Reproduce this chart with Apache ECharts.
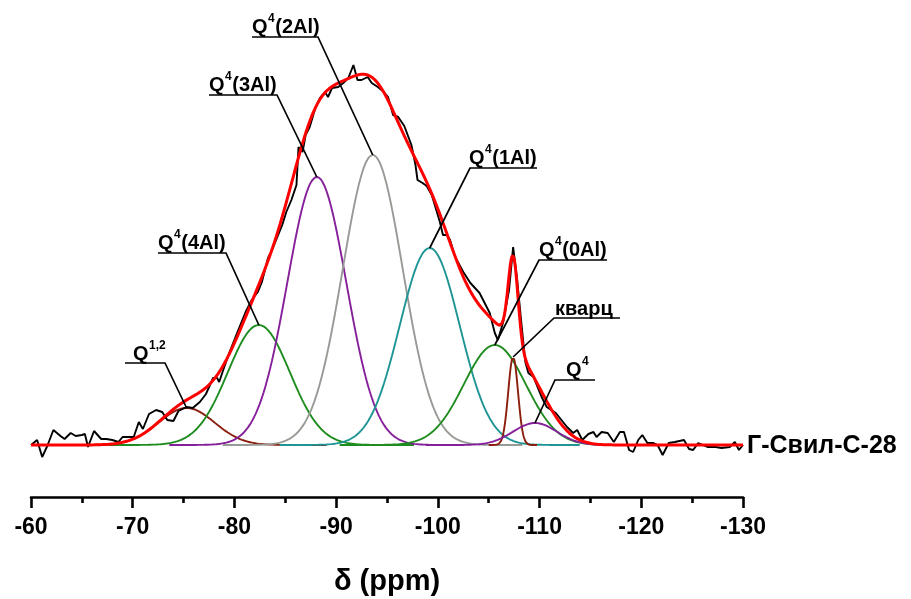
<!DOCTYPE html>
<html>
<head>
<meta charset="utf-8">
<script src="https://cdn.jsdelivr.net/npm/echarts/dist/echarts.min.js"></script>
<style>
  html, body { margin: 0; padding: 0; background: #fff; }
  #chart { width: 911px; height: 599px; }
</style>
</head>
<body>
<div id="chart"></div>
<script>
// 29Si MAS NMR spectrum, sample Г-Свил-С-28: chemical shift (ppm) and intensity
const shiftPpm = [
  -60.0, -60.6, -61.1, -61.6, -62.2, -62.9, -63.3, -63.9, -64.4, -65.0,
  -65.3, -65.6, -66.2, -66.9, -67.4, -68.0, -68.6, -69.0, -69.6, -70.1,
  -70.6, -71.0, -71.6, -72.3, -72.9, -73.4, -74.0, -74.5, -75.3, -75.9,
  -76.6, -77.2, -77.9, -78.3, -78.5, -79.0, -79.6, -80.3, -80.5, -81.1,
  -81.7, -82.3, -82.7, -83.3, -83.7, -84.3, -84.7, -85.1, -85.6, -86.1,
  -86.3, -86.7, -87.0, -87.4, -87.9, -88.4, -88.9, -89.2, -89.6, -90.2,
  -90.7, -91.2, -91.7, -92.1, -92.5, -93.1, -93.5, -94.1, -94.7, -95.1,
  -95.6, -96.1, -96.7, -97.4, -97.8, -98.0, -98.5, -98.9, -99.4, -100.2,
  -100.5, -100.9, -101.2, -101.7, -102.5, -103.2, -104.1, -105.1, -105.6, -105.9,
  -106.4, -107.0, -107.4, -107.8, -108.2, -108.6, -108.9, -109.4, -110.2, -110.7,
  -111.6, -112.7, -113.3, -113.7, -114.2, -114.8, -115.3, -115.6, -116.1, -116.7,
  -117.3, -117.9, -118.3, -118.8, -119.2, -119.7, -120.1, -120.6, -121.2, -121.6,
  -122.1, -122.7, -123.3, -124.2, -124.7, -125.1, -125.6, -126.5, -127.3, -127.9,
  -128.7, -129.2, -129.6, -130.0
];
const intensity = [
  0, 5, -12, -1, 15, 9, 6, 12, 9, 10,
  11, -2, 14, 6, 6, 5, 3, 8, 8, 8,
  23, 16, 31, 35, 33, 25, 24, 34, 38, 37,
  43, 51, 67, 67, 63, 78, 95, 113, 118, 133,
  145, 153, 163, 187, 195, 210, 220, 233, 245, 260,
  298, 293, 310, 318, 335, 347, 353, 348, 357, 358,
  362, 367, 380, 365, 365, 368, 362, 358, 353, 348,
  330, 328, 319, 300, 280, 265, 262, 259, 250, 223,
  210, 210, 205, 188, 173, 162, 152, 132, 112, 105,
  122, 155, 198, 165, 123, 83, 72, 68, 48, 38,
  32, 18, 12, 15, 5, 11, 13, 8, 13, 12,
  3, 13, 13, -5, -7, 5, 10, 2, 2, 0,
  -10, 2, 3, 5, -4, -5, 2, -2, -2, -3,
  -2, 3, -5, 0
];

// Gaussian components of the fit: position, height, standard deviation (ppm)
const peakNames   = ['Q1,2', 'Q4(4Al)', 'Q4(3Al)', 'Q4(2Al)', 'Q4(1Al)', 'Q4(0Al)', 'кварц', 'Q4'];
const peakCenters = [-75.3, -82.4, -88.1, -93.6, -99.2, -105.6, -107.4, -109.55];
const peakHeights = [37, 120, 268, 290, 197, 100, 88, 22];
const peakSigmas  = [2.75, 3.05, 2.9, 2.95, 2.95, 3.05, 0.48, 2.15];
const peakColors  = ['#8b1e0e', '#1e8c1e', '#86209a', '#979b95', '#1f9494', '#1e8c1e', '#8b1e0e', '#86209a'];

const axisMin = -130, axisMax = -60;
const step = 0.05;

function gauss(i, x) {
  const d = (x - peakCenters[i]) / peakSigmas[i];
  return peakHeights[i] * Math.exp(-0.5 * d * d);
}

// Sample grid along the shift axis
const grid = [];
for (let k = 0; ; k++) {
  const x = +(axisMax - k * step).toFixed(3);
  if (x < axisMin - 1e-9) break;
  grid.push(x);
}

const componentSeries = peakNames.map((name, i) => {
  const lo = peakCenters[i] - 5 * peakSigmas[i];
  const hi = peakCenters[i] + 5 * peakSigmas[i];
  const pts = grid.filter(x => x >= lo && x <= hi).map(x => [x, gauss(i, x)]);
  return {
    name: name, type: 'line', data: pts, showSymbol: false, symbol: 'none',
    lineStyle: { color: peakColors[i], width: 1.9 }, z: 2, silent: true
  };
});

const envelope = grid.map(x => {
  let s = 0;
  for (let i = 0; i < peakNames.length; i++) s += gauss(i, x);
  return [x, s];
});

const measured = shiftPpm.map((x, i) => [x, intensity[i]]);

const chart = echarts.init(document.getElementById('chart'), null, { renderer: 'canvas' });
const FONT = '"Liberation Sans", Arial, sans-serif';

chart.setOption({
  animation: false,
  backgroundColor: '#ffffff',
  grid: { left: 31, right: 168, top: 20, bottom: 102, containLabel: false, outerBoundsMode: 'none' },
  xAxis: {
    type: 'value', inverse: true, min: axisMin, max: axisMax, interval: 10,
    name: 'δ (ppm)', nameLocation: 'middle', nameGap: 70,
    nameTextStyle: { fontSize: 29, fontWeight: 'bold', color: '#000', fontFamily: FONT },
    axisLine: { show: true, onZero: false, lineStyle: { color: '#000', width: 2.6 } },
    axisTick: { show: true, inside: false, length: 11, lineStyle: { color: '#000', width: 2.6 } },
    minorTick: { show: true, splitNumber: 2, length: 6, lineStyle: { color: '#000', width: 2.6 } },
    axisLabel: { fontSize: 23, fontWeight: 'bold', color: '#000', fontFamily: FONT, margin: 19,
                 showMinLabel: true, showMaxLabel: true, hideOverlap: false },
    splitLine: { show: false }, minorSplitLine: { show: false }
  },
  yAxis: {
    type: 'value', min: -52, max: 425, show: false,
    splitLine: { show: false }
  },
  series: componentSeries.concat([
    { name: 'exp', type: 'line', data: measured, showSymbol: false, symbol: 'none',
      lineStyle: { color: '#000', width: 1.9 }, z: 3, silent: true },
    { name: 'fit', type: 'line', data: envelope, showSymbol: false, symbol: 'none',
      lineStyle: { color: '#ff0000', width: 3 }, z: 4, silent: true }
  ])
});

// Callout labels with underline and leader line to each component's maximum
const callouts = [
  { peak: 0, main: 'Q', sup: '1,2', rest: '',      x: 133, y: 354, ux: [125, 165], uy: 363, side: 'right' },
  { peak: 1, main: 'Q', sup: '4',   rest: '(4Al)', x: 158, y: 243, ux: [158, 226], uy: 253, side: 'right' },
  { peak: 2, main: 'Q', sup: '4',   rest: '(3Al)', x: 209, y: 85,  ux: [209, 277], uy: 95,  side: 'right' },
  { peak: 3, main: 'Q', sup: '4',   rest: '(2Al)', x: 252, y: 27,  ux: [252, 318], uy: 37,  side: 'right' },
  { peak: 4, main: 'Q', sup: '4',   rest: '(1Al)', x: 469, y: 158, ux: [470, 537], uy: 168, side: 'left' },
  { peak: 5, main: 'Q', sup: '4',   rest: '(0Al)', x: 539, y: 250, ux: [539, 607], uy: 260, side: 'left' },
  { peak: 6, main: 'кварц', sup: '', rest: '',     x: 555, y: 309, ux: [554, 620], uy: 318, side: 'left' },
  { peak: 7, main: 'Q', sup: '4',   rest: '',      x: 566, y: 370, ux: [555, 595], uy: 380, side: 'left' }
];

const ctx = document.createElement('canvas').getContext('2d');
function textWidth(t, font) { ctx.font = font; return ctx.measureText(t).width; }
const mainFont = 'bold 20px ' + FONT;
const supFont = 'bold 12px ' + FONT;

const elements = [];
callouts.forEach(c => {
  const top = chart.convertToPixel({ gridIndex: 0 }, [peakCenters[c.peak], peakHeights[c.peak]]);
  const pts = c.side === 'right'
    ? [[c.ux[0], c.uy], [c.ux[1], c.uy], top]
    : [[c.ux[1], c.uy], [c.ux[0], c.uy], top];
  elements.push({ type: 'polyline', shape: { points: pts }, z: 10,
    style: { stroke: '#000', lineWidth: 1.7, fill: null } });
  let x = c.x;
  const parts = [[c.main, mainFont, 0], [c.sup, supFont, -8], [c.rest, mainFont, 0]];
  parts.forEach(([t, f, dy]) => {
    if (!t) return;
    elements.push({ type: 'text', x: x, y: c.y + dy, z: 10,
      style: { text: t, font: f, fill: '#000', align: 'left', verticalAlign: 'middle',
               textAlign: 'left', textVerticalAlign: 'middle' } });
    x += textWidth(t, f) + 0.5;
  });
});

// Sample name at the end of the trace
elements.push({ type: 'text', x: 747, y: 446, z: 10,
  style: { text: 'Г-Свил-С-28', font: 'bold 25px ' + FONT, fill: '#000',
           align: 'left', verticalAlign: 'middle', textAlign: 'left', textVerticalAlign: 'middle' } });

chart.setOption({ graphic: { elements: elements } });
</script>
</body>
</html>
